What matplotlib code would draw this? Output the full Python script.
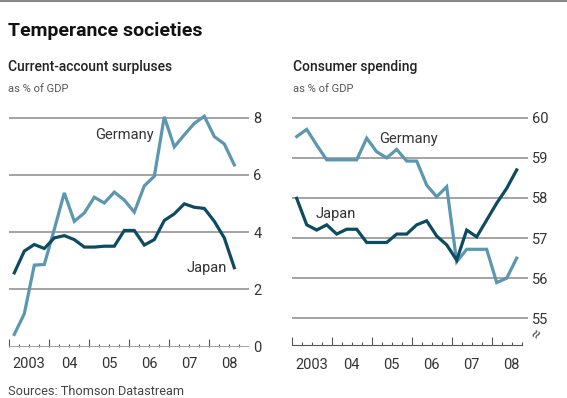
import matplotlib
matplotlib.use("Agg")
import numpy as np
import matplotlib.pyplot as plt
from matplotlib.lines import Line2D

# quarterly, 2003Q1 - 2008Q3 (plotted at mid-quarter)
quarters = 2003.125 + 0.25 * np.arange(23)

ca_germany = [0.43, 1.15, 2.85, 2.87, 4.1, 5.37, 4.38, 4.67, 5.22, 5.02, 5.4, 5.12,
              4.7, 5.62, 5.95, 8.03, 6.98, 7.4, 7.8, 8.05, 7.34, 7.08, 6.35]
ca_japan = [2.58, 3.34, 3.57, 3.43, 3.8, 3.88, 3.74, 3.48, 3.48, 3.51, 3.51, 4.06,
            4.06, 3.55, 3.74, 4.41, 4.64, 4.99, 4.87, 4.83, 4.38, 3.8, 2.76]

cs_germany = [59.53, 59.71, 59.32, 58.95, 58.95, 58.95, 58.95, 59.49, 59.15, 59.0, 59.21, 58.92,
              58.92, 58.32, 58.03, 58.28, 56.41, 56.72, 56.72, 56.72, 55.89, 56.0, 56.5]
cs_japan = [57.99, 57.33, 57.2, 57.33, 57.1, 57.22, 57.22, 56.89, 56.89, 56.89, 57.1, 57.1,
            57.33, 57.43, 57.05, 56.83, 56.45, 57.2, 57.03, 57.45, 57.87, 58.24, 58.7]

years = [2003, 2004, 2005, 2006, 2007, 2008]
year_labels = ["2003", "04", "05", "06", "07", "08"]

light = "#5b97b0"
dark = "#0d4b63"
grid_c = "#a3a3a3"
txt_c = "#333333"

plt.rcParams['font.family'] = ['Roboto', 'DejaVu Sans']

W, H = 567, 398
fig = plt.figure(figsize=(W / 100, H / 100), dpi=100)
fig.patch.set_facecolor("white")


def px_axes(x0, x1, ytop, ybot):
    return fig.add_axes([x0 / W, 1 - ybot / H, (x1 - x0) / W, (ybot - ytop) / H])


def style(ax, yticks, ylim, xmax, label_y):
    ax.set_xlim(2003, xmax)
    ax.set_ylim(*ylim)
    for s in ax.spines.values():
        s.set_visible(False)
    ax.set_yticks(yticks)
    ax.yaxis.tick_right()
    ax.tick_params(axis='y', length=0, pad=3, labelsize=10.5, labelcolor=txt_c)
    ax.grid(axis='y', color=grid_c, lw=1.4)
    ax.set_axisbelow(True)
    ax.set_xticks(np.arange(2003, 2009), labels=[])
    ax.set_xticks(np.arange(2003, 2008.8, 0.25), minor=True)
    ax.tick_params(axis='x', which='major', direction='in', length=6, width=0.8, color="#555555")
    ax.tick_params(axis='x', which='minor', direction='in', length=2.5, width=0.8, color="#555555")
    for yr, lab in zip(years, year_labels):
        ax.text(yr + 0.5, label_y, lab, transform=ax.get_xaxis_transform(),
                ha='center', va='center', fontsize=10.5, color=txt_c)


# left: current-account surpluses
ax1 = px_axes(9.3, 249.3, 346.7 - 8.4 * 28.63, 346.7)
style(ax1, [0, 2, 4, 6, 8], (0, 8.4), 2009.0, -0.074)
ax1.plot(quarters, ca_germany, color=light, lw=2.3, solid_joinstyle='miter')
ax1.plot(quarters, ca_japan, color=dark, lw=2.3, solid_joinstyle='miter')
ax1.text(2005.89, 7.38, "Germany", ha='center', va='center', fontsize=10.5, color=txt_c)
ax1.text(2007.95, 2.76, "Japan", ha='center', va='center', fontsize=10.5, color=txt_c)

# right: consumer spending
ax2 = px_axes(291.7, 527.7, 103.7, 345)
style(ax2, [55, 56, 57, 58, 59, 60], (54.334, 60.35), 2008.9, -0.081)
ax2.spines['bottom'].set_visible(True)
ax2.spines['bottom'].set_color("#555555")
ax2.spines['bottom'].set_linewidth(0.8)
ax2.spines['bottom'].set_bounds(2003, 2008.75)
ax2.plot(quarters, cs_germany, color=light, lw=2.3, solid_joinstyle='miter')
ax2.plot(quarters, cs_japan, color=dark, lw=2.3, solid_joinstyle='miter')
ax2.text(2005.91, 59.48, "Germany", ha='center', va='center', fontsize=10.5, color=txt_c)
ax2.text(2004.11, 57.59, "Japan", ha='center', va='center', fontsize=10.5, color=txt_c)
# axis break mark
ax2.text(1.04, 0.045, "\u2248", transform=ax2.transAxes, rotation=60,
         ha='center', va='center', fontsize=12, color="#555555")

# titles and notes
fig.text(8 / W, 1 - 36 / H, "Temperance societies", fontsize=14, fontweight='bold', color="#111111")
fig.text(8 / W, 1 - 70.5 / H, "Current-account surpluses", fontsize=10, fontweight='medium', color="#222222")
fig.text(8 / W, 1 - 92 / H, "as % of GDP", fontsize=8, color="#555555")
fig.text(293 / W, 1 - 70.5 / H, "Consumer spending", fontsize=10, fontweight='medium', color="#222222")
fig.text(293 / W, 1 - 92 / H, "as % of GDP", fontsize=8, color="#555555")
fig.text(8 / W, 1 - 395 / H, "Sources: Thomson Datastream", fontsize=9.2, color="#444444")

fig.add_artist(Line2D([0, 1], [0.998, 0.998], transform=fig.transFigure, color="#888888", lw=1.5))

fig.savefig("out.png", dpi=100)
